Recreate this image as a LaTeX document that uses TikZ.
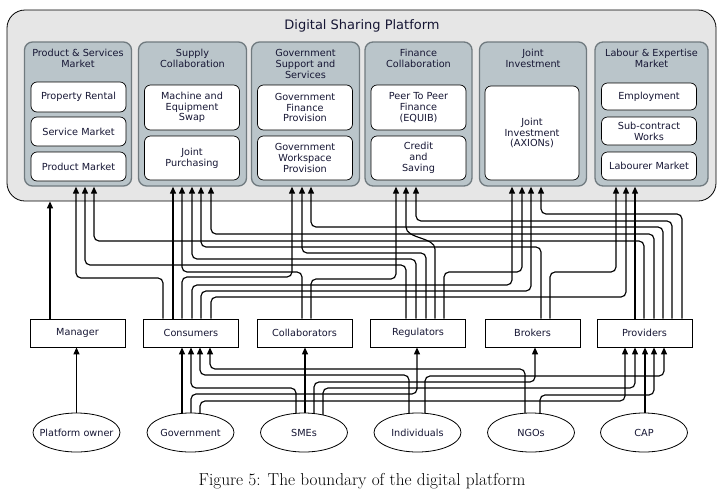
\documentclass[tikz,border=0pt]{standalone}
\usepackage{fontspec}
\usepackage{tikz}
\usetikzlibrary{positioning,arrows.meta,shapes.geometric,backgrounds}
\newfontfamily\dvsans{DejaVu Sans}
\definecolor{ink}{RGB}{22,22,52}
\definecolor{platfill}{RGB}{230,230,230}
\definecolor{panelfill}{RGB}{186,197,202}
\definecolor{paneledge}{RGB}{112,122,127}

\begin{document}
\begin{tikzpicture}[x=1pt,y=-1pt,
  lbl/.style={font=\dvsans\fontsize{9.7}{10.8}\selectfont, text=ink, align=center},
  platform/.style={draw, line width=0.8pt, fill=platfill, rounded corners=18pt,
    minimum width=709pt, minimum height=191pt},
  panel/.style={draw=paneledge, line width=1.3pt, fill=panelfill, rounded corners=8pt,
    minimum width=107pt, minimum height=144pt},
  ptitle/.style={lbl, inner sep=0pt},
  service/.style={lbl, draw, line width=0.7pt, fill=white, rounded corners=6pt,
    minimum width=95pt, inner sep=1pt},
  actor/.style={lbl, draw, line width=0.8pt, fill=white, minimum width=95pt, minimum height=28pt},
  party/.style={lbl, ellipse, draw, line width=0.8pt, fill=white, minimum width=87pt,
    minimum height=39pt, inner xsep=-14pt, inner ysep=0pt},
  wire/.style={line width=1.15pt, rounded corners=5pt, -{Triangle[length=7pt,width=6pt]}}]
  \useasboundingbox (0,0) rectangle (728,496);

  \node[platform] (dsp) at (361.5,105.5) {};
  \node[lbl, font=\dvsans\fontsize{13}{15}\selectfont, anchor=base] (dsptitle) at (362,29) {Digital Sharing Platform};

  \node[panel] (p1) at (78,114) {};
  \node[panel, minimum width=108pt] (p2) at (192.5,114) {};
  \node[panel, minimum width=108pt] (p3) at (305.5,114) {};
  \node[panel] (p4) at (418.5,114) {};
  \node[panel] (p5) at (533,114) {};
  \node[panel, minimum width=113pt] (p6) at (651.5,114) {};

  \node[ptitle, below=8pt of p1.north] (t1) {Product \& Services\\Market};
  \node[ptitle, below=8pt of p2.north] (t2) {Supply\\Collaboration};
  \node[ptitle, below=8pt of p3.north] (t3) {Government\\Support and\\Services};
  \node[ptitle, below=8pt of p4.north] (t4) {Finance\\Collaboration};
  \node[ptitle, below=8pt of p5.north] (t5) {Joint\\Investment};
  \node[ptitle, below=8pt of p6.north] (t6) {Labour \& Expertise\\Market};

  \node[service, minimum height=30pt] (rent) at (78.5,97) {Property Rental};
  \node[service, minimum height=29pt] (servm) at (78.5,131.5) {Service Market};
  \node[service, minimum height=29pt] (prodm) at (78.5,166.5) {Product Market};
  \node[service, minimum height=45pt] (swap) at (192,107.5) {Machine and\\Equipment\\Swap};
  \node[service, minimum height=44pt] (jpur) at (192,158) {Joint\\Purchasing};
  \node[service, minimum height=45pt] (gfin) at (305,107.5) {Government\\Finance\\Provision};
  \node[service, minimum height=44pt] (gwork) at (305,158) {Government\\Workspace\\Provision};
  \node[service, minimum height=45pt] (peer) at (418.5,107.5) {Peer To Peer\\Finance\\(EQUIB)};
  \node[service, minimum height=44pt] (credit) at (418.5,158) {Credit\\and\\Saving};
  \node[service, minimum height=94pt, minimum width=94pt] (axion) at (532,133) {Joint\\Investment\\(AXIONs)};
  \node[service, minimum height=27pt] (employ) at (649,96.5) {Employment};
  \node[service, minimum height=28pt] (subc) at (649,131) {Sub-contract\\Works};
  \node[service, minimum height=28pt] (labm) at (649,166) {Labourer Market};

  \node[actor] (mgr) at (77.5,333) {Manager};
  \node[actor] (cons) at (191,333) {Consumers};
  \node[actor] (collab) at (304.5,333) {Collaborators};
  \node[actor] (reg) at (418,333) {Regulators};
  \node[actor] (brok) at (532.5,333) {Brokers};
  \node[actor] (prov) at (644.5,333) {Providers};

  \node[party] (owner) at (76.5,432.5) {Platform owner};
  \node[party] (gov) at (190.5,432.5) {Government};
  \node[party] (smes) at (304,432.5) {SMEs};
  \node[party] (indiv) at (417.5,432.5) {Individuals};
  \node[party] (ngos) at (531,432.5) {NGOs};
  \node[party] (cap) at (644,432.5) {CAP};

  \node[font=\fontsize{17.3}{20}\selectfont, anchor=base] (figcap) at (362,485)
    {Figure 5: The boundary of the digital platform};

  % stakeholders into the platform
  \draw[wire] (mgr.north -| 50,0) -- (dsp.south -| 50,0);
  \foreach \src/\sx/\lv/\dst/\dx in {cons/163/278/p1/76, reg/406/265/p1/85, prov/644/241/p1/94,
      collab/302/272/p2/182, reg/416/259/p2/192, brok/541/247/p2/201, prov/654/234/p2/211,
      cons/182/277/p3/292, reg/426/253/p3/302, prov/663/227/p3/311,
      collab/311/279/p4/396, prov/672/221/p4/416,
      cons/192/285/p5/512, reg/444/272/p5/522, cons/201/291/p5/531, prov/682/214/p5/541,
      brok/550/272/p6/616, cons/211/297/p6/626}
    \draw[wire] (\src.north -| \sx,0) -- (\sx,\lv) -- (\dx,\lv) -- (\dst.south -| \dx,0);
  \foreach \src/\sx/\dst in {cons/173/p2, prov/635/p6}
    \draw[wire] (\src.north -| \sx,0) -- (\dst.south -| \sx,0);
  \draw[wire] (reg.north -| 435,0) -- (435,254) to[out=90,in=-90] (406,222) -- (p4.south -| 406,0);

  % parties into the stakeholders
  \draw[wire] (owner.north) -- (owner.north |- mgr.south);
  \begin{pgfonlayer}{background}
    \foreach \src/\sx/\lv/\dst/\dx in {smes/296/388/cons/191, indiv/409/375/cons/200,
        ngos/525/369/cons/210, gov/191/394/reg/417, gov/200/401/prov/625,
        smes/314/382/brok/535, smes/323/388/prov/635, indiv/425/376/prov/664,
        ngos/540/395/prov/654}
      \draw[wire] (\src.center -| \sx,0) -- (\sx,\lv) -- (\dx,\lv) -- (\dst.south -| \dx,0);
    \foreach \src/\sx/\dst in {gov/182/cons, smes/305/collab, cap/645/prov}
      \draw[wire] (\src.center -| \sx,0) -- (\dst.south -| \sx,0);
  \end{pgfonlayer}
\end{tikzpicture}
\end{document}
